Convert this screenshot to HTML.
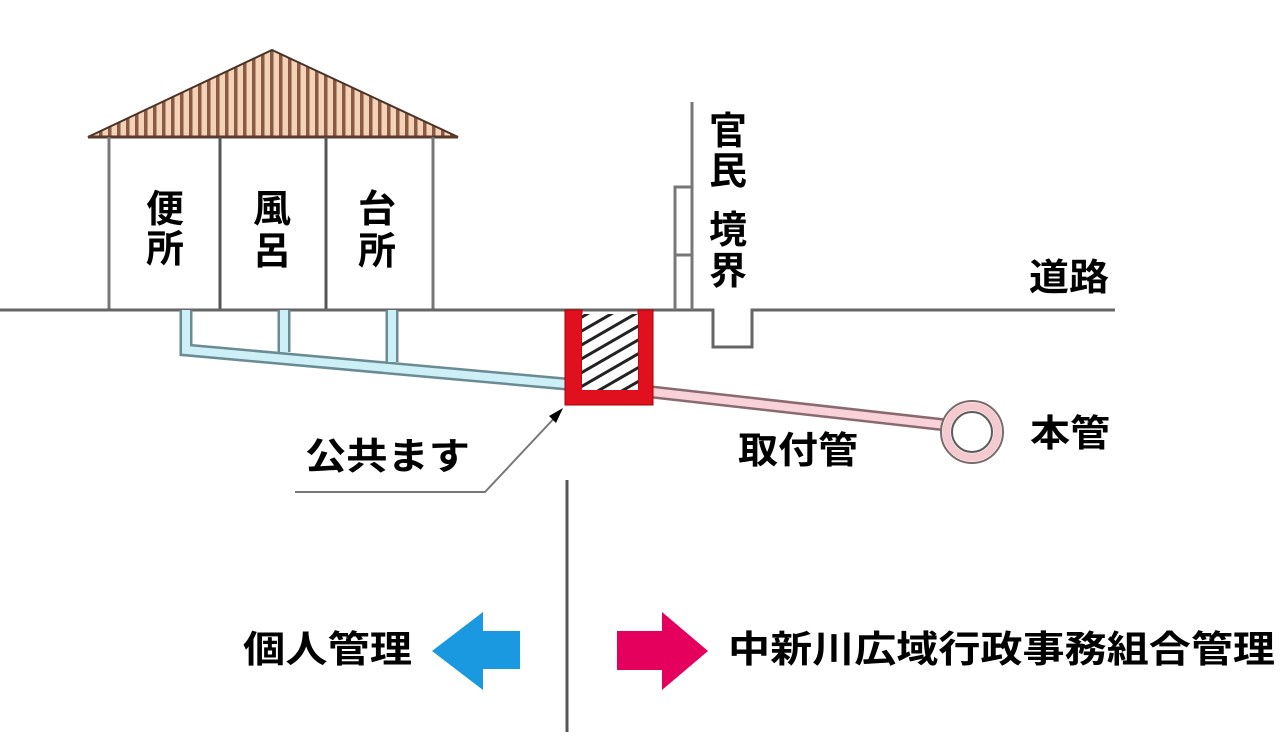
<!DOCTYPE html>
<html><head><meta charset="utf-8"><style>
html,body{margin:0;padding:0;background:#fff;}
svg{display:block;}
text{font-family:"Liberation Sans","Noto Sans CJK JP",sans-serif;font-weight:bold;fill:#000;}
</style></head><body>
<svg width="1286" height="748" viewBox="0 0 1286 748" xmlns="http://www.w3.org/2000/svg">
<defs>
<pattern id="roof" width="9" height="10" patternUnits="userSpaceOnUse">
<rect width="9" height="10" fill="#f3d2b6"/>
<rect x="0" width="3.5" height="10" fill="#8a5a44"/>
</pattern>
<pattern id="hatch" width="12" height="12" patternUnits="userSpaceOnUse" patternTransform="rotate(-30)">
<rect width="12" height="12" fill="#fff"/>
<rect width="12" height="3" fill="#222"/>
</pattern>
<clipPath id="hc"><rect x="582" y="314" width="56" height="76"/></clipPath>
</defs>
<polygon points="88,137 272,50 458,137" fill="url(#roof)" stroke="#4a3428" stroke-width="2"/>
<line x1="88" y1="137" x2="458" y2="137" stroke="#5a3a2a" stroke-width="3"/>
<g stroke="#777" stroke-width="3">
<line x1="109" y1="137" x2="109" y2="310"/>
<line x1="220" y1="137" x2="220" y2="310" stroke="#555"/>
<line x1="326" y1="137" x2="326" y2="310" stroke="#555"/>
<line x1="433" y1="137" x2="433" y2="310"/>
</g>
<polyline points="0,310 713,310 713,347 752,347 752,310 1115,310" fill="none" stroke="#666" stroke-width="3"/>
<g stroke="#777" stroke-width="3" fill="none">
<line x1="692" y1="102" x2="692" y2="310"/>
<polyline points="692,187 675,187 675,310"/>
<line x1="675" y1="255" x2="692" y2="255"/>
</g>
<g fill="none" stroke-linejoin="miter">
<path d="M186,310 V350 L566,384 M284,310 V352 M392,310 V362" stroke="#6a8a94" stroke-width="13"/>
<path d="M186,310 V350 L566,384 M284,310 V352 M392,310 V362" stroke="#cdeff6" stroke-width="8"/>
</g>
<line x1="652" y1="392" x2="946" y2="425" stroke="#8a6a70" stroke-width="13"/>
<line x1="652" y1="392" x2="946" y2="425" stroke="#f8d2d8" stroke-width="8"/>
<circle cx="972" cy="432" r="31" fill="#fff" stroke="#7a6a6e" stroke-width="2"/>
<circle cx="972" cy="432" r="25.5" fill="none" stroke="#f5c9d0" stroke-width="8"/>
<circle cx="972" cy="432" r="20" fill="#fff" stroke="#5a5a5a" stroke-width="2"/>
<path d="M565,310 H582 V388 H638 V310 H653 V405 H565 Z" fill="#e0101e" stroke="#a00" stroke-width="1"/>
<rect x="582" y="314" width="56" height="74" fill="#fff"/>
<rect x="570" y="290" width="90" height="120" fill="url(#hatch)" clip-path="url(#hc)"/>
<polyline points="295,492 485,492 560,412" fill="none" stroke="#777" stroke-width="2"/>
<polygon points="563,408 549,416 556,423" fill="#000"/>
<line x1="567" y1="480" x2="567" y2="732" stroke="#555" stroke-width="3"/>
<polygon points="432,651 483,612 483,631 520,631 520,669 483,669 483,690" fill="#1a98e0"/>
<polygon points="617,631 662,631 662,612 708,651 662,690 662,670 617,670" fill="#e5005e"/>
<g font-size="38">
<text x="146" y="222">便</text><text x="146" y="262">所</text>
<text x="253" y="222">風</text><text x="253" y="264">呂</text>
<text x="358" y="222">台</text><text x="358" y="264">所</text>
<text x="709" y="144">官</text><text x="709" y="184">民</text>
<text x="709" y="243">境</text><text x="709" y="284">界</text>
</g>
<g font-size="37">
<text x="1029" y="290" textLength="80" lengthAdjust="spacingAndGlyphs">道路</text>
<text x="1030" y="446" textLength="80" lengthAdjust="spacingAndGlyphs">本管</text>
<text x="305" y="469" textLength="165" lengthAdjust="spacingAndGlyphs">公共ます</text>
<text x="738" y="463" textLength="120" lengthAdjust="spacingAndGlyphs">取付管</text>
<text x="243" y="662" textLength="169" lengthAdjust="spacingAndGlyphs">個人管理</text>
<text x="728" y="662" textLength="547" lengthAdjust="spacingAndGlyphs">中新川広域行政事務組合管理</text>
</g>
</svg>
</body></html>
